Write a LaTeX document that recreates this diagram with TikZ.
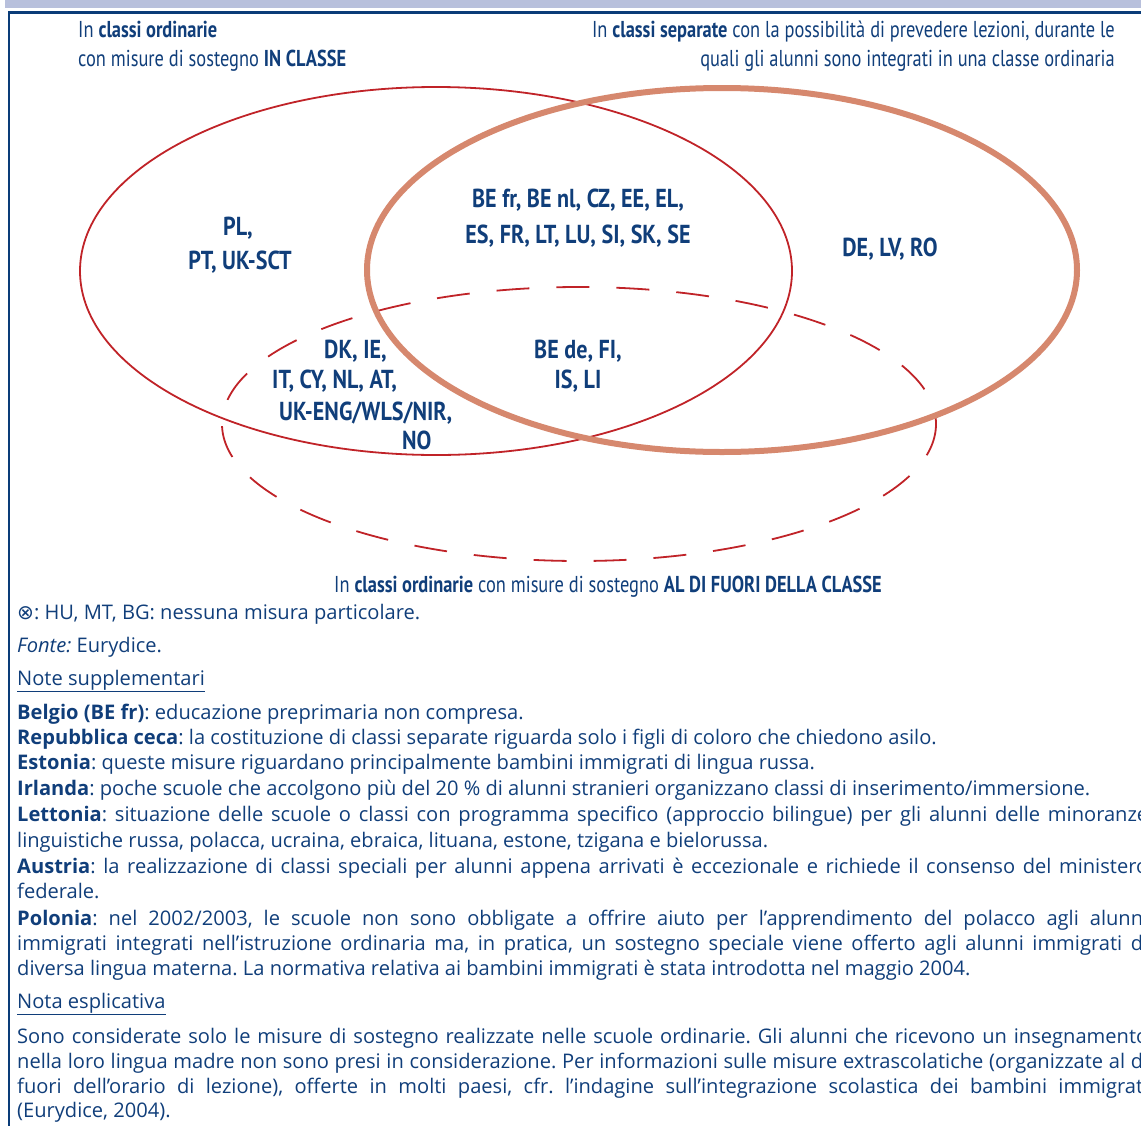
\documentclass[tikz,border=0pt]{standalone}
\usepackage{fontspec}
\setmainfont{Open Sans}
\newfontfamily\condfont[FakeStretch=0.8]{PT Sans}
\newfontfamily\countryfont[FakeStretch=0.85]{PT Sans}
\newfontfamily\symfont{DejaVu Sans}
\usetikzlibrary{positioning}
\definecolor{eurblue}{RGB}{16,62,122}
\definecolor{framebar}{RGB}{184,192,220}
\definecolor{frameblue}{RGB}{10,60,120}
\definecolor{setred}{RGB}{192,35,40}
\definecolor{setsalmon}{RGB}{214,136,110}
\frenchspacing

\begin{document}
\begin{tikzpicture}[x=1pt, y=-1pt,
    head/.style={font=\condfont\fontsize{23}{28}\selectfont, text=eurblue, inner sep=0pt},
    country/.style={font=\countryfont\bfseries\fontsize{26}{30}\selectfont, text=eurblue, inner sep=0pt},
    note/.style={font=\fontsize{20.1}{25}\selectfont, text=eurblue, inner sep=0pt, anchor=base west},
    inclass/.style={draw=setred, line width=1.8pt},
    outclass/.style={draw=setred, line width=1.8pt, dash pattern=on 33pt off 27pt},
    separate/.style={draw=setsalmon, line width=6pt}
]
    \useasboundingbox (0,0) rectangle (1141,1125);
    \clip (0,0) rectangle (1141,1125);

    % frame
    \fill[framebar] (5,0) rectangle (1141,7.5);
    \draw[frameblue, line width=2.2pt] (9,1130) -- (9,12.5) -- (1145,12.5);

    % the three sets
    \draw[inclass] (436,271) ellipse [x radius=356, y radius=184];
    \draw[outclass] (579,424) ellipse [x radius=357, y radius=137];
    \draw[separate] (722,270) ellipse [x radius=355, y radius=182];

    % set titles
    \node[head, anchor=base west] (tinA) at (78,37) {In \textbf{classi ordinarie}};
    \node[head, anchor=base west] (tinB) at (78,66) {con misure di sostegno \textbf{IN CLASSE}};
    \node[head, anchor=base east] (tsepA) at (1115,37) {In \textbf{classi separate} con la possibilità di prevedere lezioni, durante le};
    \node[head, anchor=base east] (tsepB) at (1115,66) {quali gli alunni sono integrati in una classe ordinaria};
    \node[head, anchor=base] (tout) at (608,592) {In \textbf{classi ordinarie} con misure di sostegno \textbf{AL DI FUORI DELLA CLASSE}};

    % countries
    \node[country] (plA) at (238,228) {PL,};
    \node[country] (plB) at (240,262) {PT, UK-SCT};
    \node[country] (beA) at (578,200) {BE fr, BE nl, CZ, EE, EL,};
    \node[country] (beB) at (578,236) {ES, FR, LT, LU, SI, SK, SE};
    \node[country] (de) at (890,249) {DE, LV, RO};
    \node[country, anchor=west] (dkA) at (324,351) {DK, IE,};
    \node[country, anchor=west] (dkB) at (272,381) {IT, CY, NL, AT,};
    \node[country, anchor=west] (dkC) at (279,413) {UK-ENG/WLS/NIR,};
    \node[country, anchor=west] (dkD) at (402,440) {NO};
    \node[country] (bdA) at (578,351) {BE de, FI,};
    \node[country] (bdB) at (578,381) {IS, LI};

    % notes
    \node[note] (none) at (17,619) {{\symfont ⊗}: HU, MT, BG: nessuna misura particolare.};
    \node[note] (src) at (17,652) {\textit{Fonte:} Eurydice.};
    \node[note] (supp) at (17,685) {\underline{Note supplementari}};
    \node[note] (nBE) at (17,719) {\textbf{Belgio (BE fr)}: educazione preprimaria non compresa.};
    \node[note] (nCZ) at (17,744) {\textbf{Repubblica ceca}: la costituzione di classi separate riguarda solo i figli di coloro che chiedono asilo.};
    \node[note] (nEE) at (17,769) {\textbf{Estonia}: queste misure riguardano principalmente bambini immigrati di lingua russa.};
    \node[note] (nIE) at (17,795) {\textbf{Irlanda}: poche scuole che accolgono più del 20~\% di alunni stranieri organizzano classi di inserimento/immersione.};
    \node[note] (nLVa) at (17,821) {\makebox[1131pt][s]{\textbf{Lettonia}: situazione delle scuole o classi con programma specifico (approccio bilingue) per gli alunni delle minoranze}};
    \node[note] (nLVb) at (17,847) {linguistiche russa, polacca, ucraina, ebraica, lituana, estone, tzigana e bielorussa.};
    \node[note] (nATa) at (17,873) {\makebox[1131pt][s]{\textbf{Austria}: la realizzazione di classi speciali per alunni appena arrivati è eccezionale e richiede il consenso del ministero}};
    \node[note] (nATb) at (17,898) {federale.};
    \node[note] (nPLa) at (17,925) {\makebox[1131pt][s]{\textbf{Polonia}: nel 2002/2003, le scuole non sono obbligate a offrire aiuto per l’apprendimento del polacco agli alunni}};
    \node[note] (nPLb) at (17,950) {\makebox[1131pt][s]{immigrati integrati nell’istruzione ordinaria ma, in pratica, un sostegno speciale viene offerto agli alunni immigrati di}};
    \node[note] (nPLc) at (17,975) {diversa lingua materna. La normativa relativa ai bambini immigrati è stata introdotta nel maggio 2004.};
    \node[note] (expl) at (17,1008) {\underline{Nota esplicativa}};
    \node[note] (exA) at (17,1043) {\makebox[1131pt][s]{Sono considerate solo le misure di sostegno realizzate nelle scuole ordinarie. Gli alunni che ricevono un insegnamento}};
    \node[note] (exB) at (17,1068) {\makebox[1131pt][s]{nella loro lingua madre non sono presi in considerazione. Per informazioni sulle misure extrascolatiche (organizzate al di}};
    \node[note] (exC) at (17,1093) {\makebox[1131pt][s]{fuori dell’orario di lezione), offerte in molti paesi, cfr. l’indagine sull’integrazione scolastica dei bambini immigrati}};
    \node[note] (exD) at (17,1117) {(Eurydice, 2004).};
\end{tikzpicture}
\end{document}
